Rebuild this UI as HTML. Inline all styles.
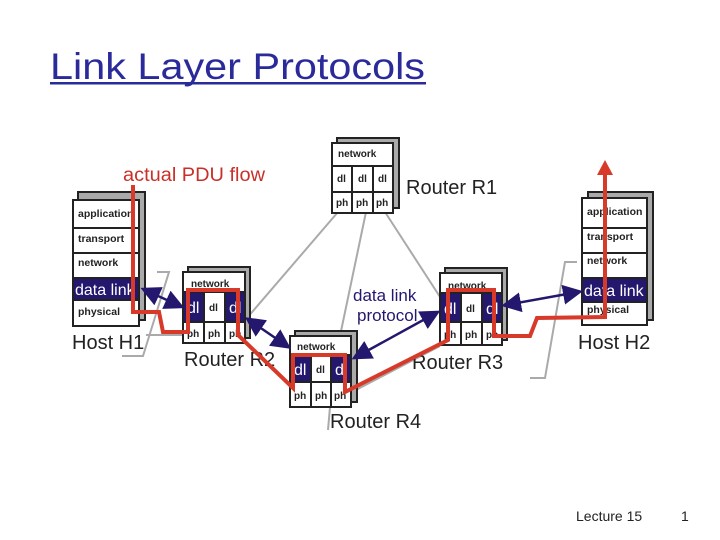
<!DOCTYPE html>
<html><head><meta charset="utf-8"><style>
html,body{margin:0;padding:0;background:#fff;}
svg{display:block;font-family:"Liberation Sans",Arial,sans-serif;}
svg text{font-family:"Liberation Sans",Arial,sans-serif;}
</style></head><body>
<svg width="720" height="540" viewBox="0 0 720 540" xmlns="http://www.w3.org/2000/svg">
<text x="50" y="79" font-size="37" fill="#2a2a9a" textLength="375" lengthAdjust="spacingAndGlyphs">Link Layer Protocols</text>
<rect x="50" y="82" width="376" height="2.5" fill="#2a2a9a"/>

<g stroke="#aaa" stroke-width="2" fill="none">
<line x1="338" y1="212" x2="247" y2="318"/>
<line x1="366" y1="212" x2="340" y2="336"/>
<line x1="385" y1="212" x2="442" y2="300"/>
<line x1="352" y1="392" x2="440" y2="346"/>
<line x1="330" y1="407" x2="328" y2="430"/>
<polyline points="157,272 169,272 143,356 122,356"/>
<polyline points="146,335 183,335"/>
<polyline points="577,262 565,262 545,378 530,378"/>
</g>

<!-- Host H1 -->
<g stroke="#222" stroke-width="2">
<rect x="78" y="192" width="67" height="128" fill="#aaa"/>
<rect x="73" y="200" width="66" height="126" fill="#fff"/>
<rect x="73" y="278" width="66" height="22" fill="#23186e"/>
<line x1="73" y1="228" x2="139" y2="228"/><line x1="73" y1="253" x2="139" y2="253"/>
</g>
<g font-size="10.5" font-weight="bold" fill="#222">
<text x="78" y="217">application</text><text x="78" y="242">transport</text><text x="78" y="266">network</text><text x="78" y="315">physical</text>
</g>
<text x="75" y="295" font-size="16" fill="#fff">data link</text>
<text x="72" y="349" font-size="20" fill="#222">Host H1</text>

<!-- Host H2 -->
<g stroke="#222" stroke-width="2">
<rect x="588" y="192" width="65" height="128" fill="#aaa"/>
<rect x="582" y="198" width="65" height="127" fill="#fff"/>
<rect x="582" y="278" width="65" height="24" fill="#23186e"/>
<line x1="582" y1="228" x2="647" y2="228"/><line x1="582" y1="253" x2="647" y2="253"/>
</g>
<g font-size="10.5" font-weight="bold" fill="#222">
<text x="587" y="215">application</text><text x="587" y="240">transport</text><text x="587" y="264">network</text><text x="587" y="313">physical</text>
</g>
<text x="584" y="296" font-size="16" fill="#fff">data link</text>
<text x="578" y="349" font-size="20" fill="#222">Host H2</text>

<!-- R1 -->
<g stroke="#222" stroke-width="2">
<rect x="337" y="138" width="62" height="70" fill="#aaa"/>
<rect x="332" y="143" width="61" height="70" fill="#fff"/>
<line x1="332" y1="166" x2="393" y2="166"/><line x1="332" y1="192" x2="393" y2="192"/>
<line x1="352" y1="166" x2="352" y2="213"/><line x1="373" y1="166" x2="373" y2="213"/>
</g>
<g font-size="10" font-weight="bold" fill="#222">
<text x="338" y="157">network</text>
<text x="337" y="182">dl</text><text x="358" y="182">dl</text><text x="378" y="182">dl</text>
<text x="336" y="206">ph</text><text x="356" y="206">ph</text><text x="376" y="206">ph</text>
</g>
<text x="406" y="194" font-size="20" fill="#222">Router R1</text>

<!-- R2 -->
<g stroke="#222" stroke-width="2">
<rect x="188" y="267" width="62" height="71" fill="#aaa"/>
<rect x="183" y="272" width="62" height="71" fill="#fff"/>
<rect x="183" y="292" width="21" height="30" fill="#23186e"/><rect x="225" y="292" width="20" height="30" fill="#23186e"/>
<line x1="183" y1="292" x2="245" y2="292"/><line x1="183" y1="322" x2="245" y2="322"/>
<line x1="204" y1="292" x2="204" y2="343"/><line x1="225" y1="292" x2="225" y2="343"/>
</g>
<text x="191" y="287" font-size="10" font-weight="bold" fill="#222">network</text>
<text x="187" y="313" font-size="16" fill="#fff">dl</text><text x="209" y="311" font-size="10" font-weight="bold" fill="#222">dl</text><text x="229" y="313" font-size="16" fill="#fff">dl</text>
<g font-size="10" font-weight="bold" fill="#222"><text x="187" y="337">ph</text><text x="208" y="337">ph</text><text x="229" y="337">ph</text></g>
<text x="184" y="366" font-size="20" fill="#222">Router R2</text>

<!-- R3 -->
<g stroke="#222" stroke-width="2">
<rect x="445" y="268" width="62" height="72" fill="#aaa"/>
<rect x="440" y="273" width="62" height="72" fill="#fff"/>
<rect x="440" y="293" width="21" height="29" fill="#23186e"/><rect x="482" y="293" width="20" height="29" fill="#23186e"/>
<line x1="440" y1="293" x2="502" y2="293"/><line x1="440" y1="322" x2="502" y2="322"/>
<line x1="461" y1="293" x2="461" y2="345"/><line x1="482" y1="293" x2="482" y2="345"/>
</g>
<text x="448" y="289" font-size="10" font-weight="bold" fill="#222">network</text>
<text x="444" y="314" font-size="16" fill="#fff">dl</text><text x="466" y="312" font-size="10" font-weight="bold" fill="#222">dl</text><text x="486" y="314" font-size="16" fill="#fff">dl</text>
<g font-size="10" font-weight="bold" fill="#222"><text x="444" y="338">ph</text><text x="465" y="338">ph</text><text x="486" y="338">ph</text></g>
<text x="412" y="369" font-size="20" fill="#222">Router R3</text>

<!-- R4 -->
<g stroke="#222" stroke-width="2">
<rect x="295" y="331" width="62" height="71" fill="#aaa"/>
<rect x="290" y="336" width="61" height="71" fill="#fff"/>
<rect x="290" y="355" width="21" height="27" fill="#23186e"/><rect x="331" y="355" width="20" height="27" fill="#23186e"/>
<line x1="290" y1="355" x2="351" y2="355"/><line x1="290" y1="382" x2="351" y2="382"/>
<line x1="311" y1="355" x2="311" y2="407"/><line x1="331" y1="355" x2="331" y2="407"/>
</g>
<text x="297" y="350" font-size="10" font-weight="bold" fill="#222">network</text>
<text x="294" y="375" font-size="16" fill="#fff">dl</text><text x="316" y="373" font-size="10" font-weight="bold" fill="#222">dl</text><text x="335" y="375" font-size="16" fill="#fff">dl</text>
<g font-size="10" font-weight="bold" fill="#222"><text x="294" y="399">ph</text><text x="315" y="399">ph</text><text x="334" y="399">ph</text></g>
<text x="330" y="428" font-size="20" fill="#222">Router R4</text>

<defs>
<marker id="b" markerWidth="8" markerHeight="8" refX="6" refY="4" orient="auto-start-reverse" markerUnits="strokeWidth"><path d="M0,0L8,4L0,8z" fill="#23186e"/></marker>
</defs>
<g stroke="#23186e" stroke-width="2.5" marker-start="url(#b)" marker-end="url(#b)">
<line x1="145" y1="290" x2="180" y2="306"/>
<line x1="249" y1="320" x2="287" y2="346"/>
<line x1="356" y1="357" x2="436" y2="313"/>
<line x1="506" y1="305" x2="578" y2="292"/>
</g>
<text x="353" y="301" font-size="17" fill="#23186e">data link</text>
<text x="357" y="321" font-size="17" fill="#23186e">protocol</text>

<text x="123" y="181" font-size="19" fill="#c8302a" textLength="142" lengthAdjust="spacingAndGlyphs">actual PDU flow</text>
<polyline fill="none" stroke="#d83a2a" stroke-width="4" points="133,185 133,312 159,312 163,332 188,332 188,290 238,290 238,335 293,388 293,355 345,355 345,392 448,340 448,290 494,290 494,336 530,336 537,318 605,317 605,172"/>
<path d="M597,175 L605,160 L613,175 z" fill="#d83a2a"/>

<text x="576" y="521" font-size="14" fill="#222">Lecture 15</text>
<text x="681" y="521" font-size="14" fill="#222">1</text>
</svg>
</body></html>
